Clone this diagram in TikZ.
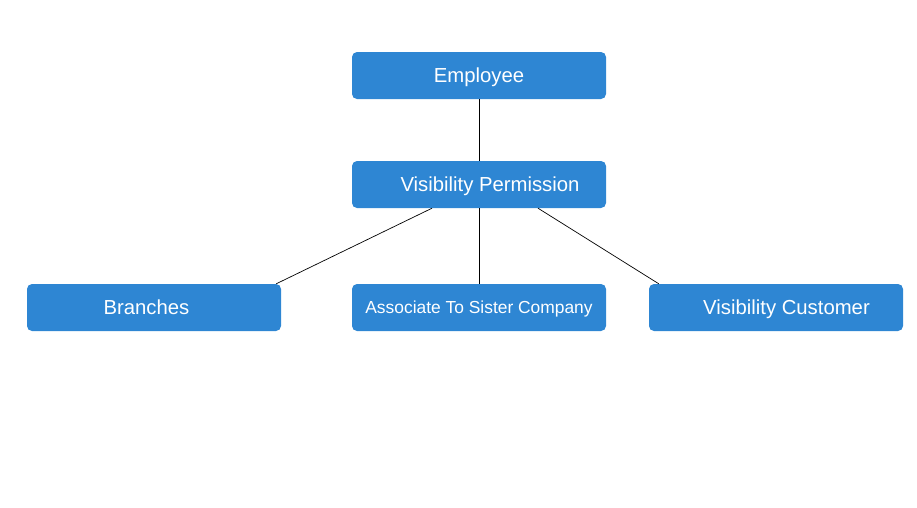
\documentclass[tikz,border=0pt]{standalone}
\usepackage{fontspec}
\setmainfont{Liberation Sans}
\definecolor{boxblue}{RGB}{46,134,211}

\begin{document}
\begin{tikzpicture}[x=1pt, y=-1pt,
	box/.style={fill=boxblue, rounded corners=5pt, minimum width=254pt, minimum height=47pt, inner sep=0pt, text height=14.6pt, text depth=0pt, text=white, font=\fontsize{20.3}{24}\selectfont},
	link/.style={draw=black, line width=0.7pt}]
	\useasboundingbox (0, 0) rectangle (917, 507);
	\node[box] (employee) at (479, 75.5) {Employee};
	\node[box] (permission) at (479, 184.5) {\hspace{22pt}Visibility Permission};
	\node[box] (branches) at (154, 307.5) {Branches\hspace{15pt}\mbox{}};
	\node[box, text height=12.5pt, font=\fontsize{17.4}{21}\selectfont] (associate) at (479, 307.5) {Associate To Sister Company};
	\node[box] (customer) at (776, 307.5) {\hspace{21pt}Visibility Customer};
	% connectors
	\draw[link] (employee) -- (permission);
	\draw[link] ([xshift=-47pt]permission.south) -- ([xshift=-5pt]branches.north east);
	\draw[link] (permission) -- (associate);
	\draw[link] ([xshift=59pt]permission.south) -- ([xshift=10pt]customer.north west);
\end{tikzpicture}
\end{document}
